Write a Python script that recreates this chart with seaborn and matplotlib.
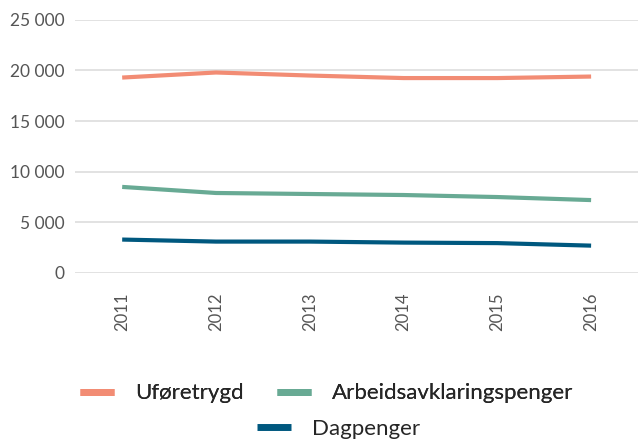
import numpy as np
import pandas as pd
import matplotlib
matplotlib.use("Agg")
import matplotlib.pyplot as plt
from matplotlib.lines import Line2D
import seaborn as sns

# Données
years = ["2011", "2012", "2013", "2014", "2015", "2016"]
uforetrygd = [19300, 19800, 19500, 19250, 19250, 19400]
arbeidsavklaring = [8500, 7900, 7800, 7700, 7500, 7200]
dagpenger = [3300, 3100, 3100, 3000, 2950, 2700]

series_names = ["Uføretrygd", "Arbeidsavklaringspenger", "Dagpenger"]
colors = ["#F28C74", "#68AA94", "#00587F"]

df = pd.DataFrame({
    "year": years * 3,
    "value": uforetrygd + arbeidsavklaring + dagpenger,
    "series": np.repeat(series_names, len(years)),
})

sns.set_theme(style="white")
plt.rcParams["font.family"] = ["Lato", "DejaVu Sans"]

fig = plt.figure(figsize=(6.38, 4.41), dpi=100)
ax = fig.add_axes([0.118, 0.381, 0.882, 0.574])

sns.lineplot(data=df, x="year", y="value", hue="series", palette=colors,
             hue_order=series_names, linewidth=3, ax=ax, legend=False,
             sort=False, solid_capstyle="butt")

ax.set_xlim(-0.5, 5.5)
ax.set_ylim(0, 25000)
ticks = np.arange(0, 25001, 5000)
ax.set_yticks(ticks)
ax.set_yticklabels([f"{v:,.0f}".replace(",", " ") for v in ticks])
ax.yaxis.grid(True, color="#DDDDDD", linewidth=1.2)
ax.set_axisbelow(True)
ax.set_xlabel("")
ax.set_ylabel("")
for s in ax.spines.values():
    s.set_visible(False)
ax.tick_params(axis="y", length=0, pad=8, labelsize=12.5, labelcolor="#555555")
ax.tick_params(axis="x", length=0, pad=14, labelsize=12, labelcolor="#555555",
               labelrotation=90)

handles = [Line2D([], [], color=c, linewidth=5, solid_capstyle="butt")
           for c in colors]
leg1 = fig.legend(handles[:2], series_names[:2], loc="center",
                  bbox_to_anchor=(0.512, 0.108), ncol=2, frameon=False,
                  fontsize=16, handlelength=1.53, handletextpad=0.95,
                  columnspacing=1.5)
leg2 = fig.legend(handles[2:], series_names[2:], loc="center",
                  bbox_to_anchor=(0.531, 0.028), frameon=False,
                  fontsize=16, handlelength=1.53, handletextpad=0.95)
fig.add_artist(leg1)

fig.savefig("out.png", dpi=100)
